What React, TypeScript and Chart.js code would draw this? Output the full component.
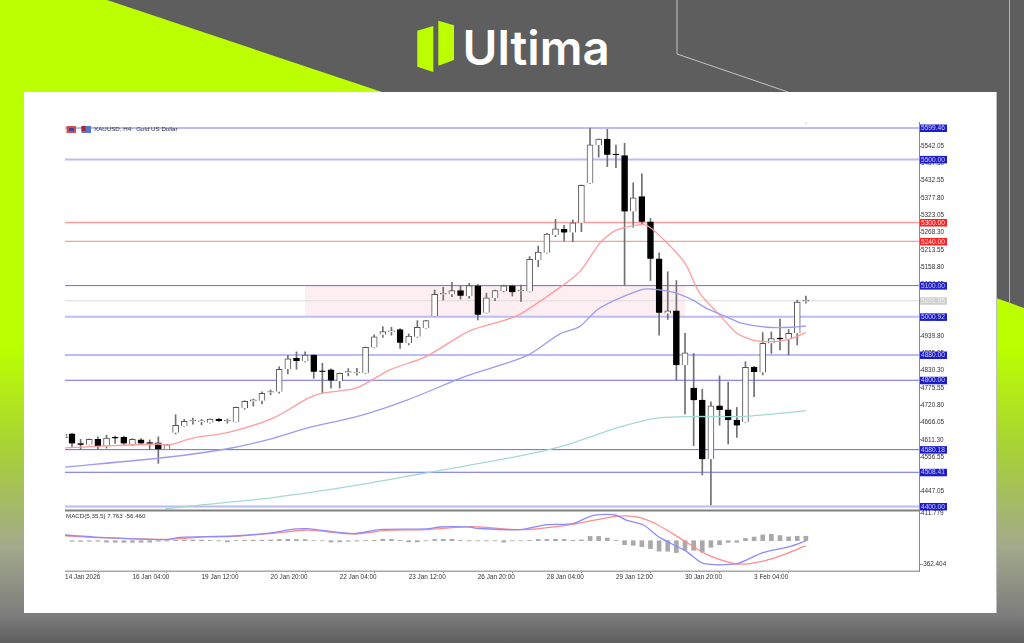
import React, { useEffect, useRef } from 'react';
import { Chart, registerables } from 'chart.js';

Chart.register(...registerables);

// H4 bars
const opens = [4630,4598,4596,4613,4590,4617,4619,4598,4611,4601,4602,4581,4634,4655,4670,4668,4665,4677,4670,4668,4711,4733,4735,4761,4764,4835,4870,4860,4880,4829,4833,4797,4824,4823,4822,4904,4944,4953,4961,4917,4938,4965,5004,5072,5073,5084,5067,5099,5014,5060,5083,5099,5082,5081,5181,5204,5260,5278,5268,5299,5424,5546,5564,5516,5512,5335,5382,5302,5185,5012,5020,4848,4775,4737,4550,4719,4706,4674,4668,4842,4825,4917,4934,4930,4949,5050];
const highs = [4632,4613,4614,4621,4626,4623,4623,4615,4615,4611,4621,4597,4691,4676,4680,4676,4678,4679,4677,4715,4735,4740,4763,4769,4843,4879,4890,4890,4881,4854,4836,4823,4837,4838,4905,4944,4970,4968,4964,4947,4989,4990,5086,5095,5110,5099,5107,5104,5076,5086,5102,5102,5102,5192,5225,5266,5310,5291,5308,5419,5599,5565,5595,5545,5551,5426,5454,5313,5204,5144,5116,4949,4885,4772,4732,4814,4794,4714,4859,4844,4951,4953,4994,4961,5054,5067];
const lows = [4589,4581,4595,4581,4585,4600,4596,4592,4596,4581,4537,4580,4630,4654,4661,4659,4664,4669,4664,4667,4708,4718,4725,4754,4759,4820,4835,4858,4806,4759,4775,4775,4814,4816,4821,4903,4936,4943,4901,4912,4936,4964,5003,5054,5065,5057,5060,4991,5013,5052,5080,5067,5050,5080,5160,5203,5255,5242,5239,5271,5423,5507,5477,5474,5102,5285,5295,5116,4943,4993,4801,4693,4593,4500,4405,4658,4598,4619,4667,4748,4817,4885,4896,4880,4912,5044];
const closes = [4600,4596,4613,4590,4617,4616,4600,4613,4600,4599,4581,4596,4657,4670,4671,4669,4677,4671,4671,4714,4733,4738,4759,4762,4835,4868,4861,4880,4827,4827,4799,4822,4825,4824,4904,4938,4954,4957,4919,4940,4968,4989,5072,5074,5084,5068,5100,5008,5061,5084,5099,5079,5084,5183,5206,5263,5280,5268,5299,5418,5546,5564,5515,5514,5335,5378,5302,5185,5014,5020,4848,4887,4737,4550,4719,4706,4674,4657,4841,4826,4917,4932,4930,4949,5048,5052];

const redBars = [-0.8,4,10,11.2,14,18,23.3,27.2,29,33,36.8,41,46,51.5,56.9,59,61.1,62.9,65.4,66.7,68.9,71,72.7,75,77,79.3,82,83.5,85];
const redMa = [4586,4592,4598,4595,4617,4634,4680,4741,4759,4776,4833,4875,4956,5004,5102,5150,5234,5274,5292,5289,5236,5171,5076,5007,4949,4925,4924,4934,4951];
const blueBars = [-0.8,11,18,23.3,27.2,33.4,38.8,44.5,46.4,52.7,56.5,58.8,60.8,62.9,65.8,67.1,69.6,71.9,73.5,75.8,77.4,80.5,83.5,85];
const blueMa = [4525,4556,4583,4616,4648,4688,4737,4801,4820,4878,4947,4970,5023,5054,5086,5089,5079,5054,5028,5001,4982,4968,4968,4972];
const tealBars = [10.8,14,23.3,33.4,40.3,50.7,56.5,63.5,67.7,71.6,77.4,81.2,85];
const tealMa = [4392,4402,4428,4469,4503,4554,4589,4652,4680,4685,4685,4693,4704];

const macdBars = [-0.9,3.2,11,12.5,18.7,23.3,25.2,27.2,32.6,35.6,41,42.6,43.8,46.1,46.8,51.9,55,58,60,61.1,62.9,64.2,66.2,68.1,71.2,73.1,77,80,83.1,85];
const macdLine = [87,51,16,51,71,122,168,183,107,168,178,208,213,208,188,168,243,259,370,395,390,314,238,46,-166,-344,-349,-182,-90,-4];
const signalBars = [-0.9,3.2,11,15.6,18.7,23.3,27.2,32.6,36.4,41,46.1,52.3,58,63,65.4,67.7,71.2,73.5,76.6,78.5,81.2,85];
const signalLine = [76,46,21,61,66,112,162,102,157,168,213,168,249,370,360,249,-25,-207,-344,-349,-268,-80];
const histogram = [-8,-10,-8,-8,-22,-24,-24,-24,-24,-22,-8,-5,6,10,12,10,4,-3,-18,3,6,8,8,10,18,22,18,16,2,-2,-20,-18,-8,-6,4,6,22,22,4,-18,-18,-3,18,20,20,4,-3,-3,-4,-2,-22,-2,-2,4,18,18,22,18,5,12,65,65,40,4,-60,-70,-90,-120,-160,-160,-180,-145,-145,-175,-100,-60,-25,-25,35,55,88,98,78,58,68,68];

const blueLevels = [5599.46,5500,5100,5000.92,4880,4800,4580.18,4508.41,4400];
const softLevels = [5599.46,5500,5000.92,4880,4400];
const redLevels = [5300,5240];
const currentPrice = 5051.95;
const zoneBars = [27,71];
const zonePrices = [5000.92,5100];

const priceTicks = [5542.05,5487.30,5432.55,5377.80,5323.05,5268.30,5213.55,5158.80,5104.05,5049.30,4994.55,4939.80,4885.05,4830.30,4775.55,4720.80,4666.05,4611.30,4556.55,4501.80,4447.05];
const macdTicks = [411.779,-362.404];
const dateBars = [-0.8,7,15,23,31,39,47,55,63,71,79];
const dateLabels = ['14 Jan 2026','16 Jan 04:00','19 Jan 12:00','20 Jan 20:00','22 Jan 04:00','23 Jan 12:00','26 Jan 20:00','28 Jan 04:00','29 Jan 12:00','30 Jan 20:00','3 Feb 04:00'];

const X_MIN = -0.81;
const X_MAX = 98.1;
const font = 'Liberation Sans';
const toPts = (xs: number[], ys: number[]) => xs.map((x, i) => ({ x, y: ys[i] }));
const levelLine = (v: number, color: string, width: number) => ({
  type: 'line', data: [{ x: X_MIN, y: v }, { x: X_MAX, y: v }], yAxisID: 'y',
  borderColor: color, borderWidth: width, pointRadius: 0, order: 10,
});
const maLine = (xs: number[], ys: number[], color: string, axis = 'y') => ({
  type: 'line', data: toPts(xs, ys), yAxisID: axis,
  borderColor: color, borderWidth: 1.3, pointRadius: 0, tension: 0.25, order: 1,
});

// zone behind the candles
const zonePlugin = {
  id: 'zone',
  beforeDatasetsDraw(chart: any) {
    const { ctx, scales } = chart;
    const x0 = scales.x.getPixelForValue(zoneBars[0]);
    const x1 = scales.x.getPixelForValue(zoneBars[1]);
    const y0 = scales.y.getPixelForValue(zonePrices[1]);
    const y1 = scales.y.getPixelForValue(zonePrices[0]);
    ctx.save();
    ctx.fillStyle = '#fdeef2';
    ctx.fillRect(x0, y0, x1 - x0, y1 - y0);
    ctx.restore();
  },
};

// price tags, pane titles
const labelsPlugin = {
  id: 'labels',
  afterDraw(chart: any) {
    const { ctx, scales, chartArea } = chart;
    const tag = (v: number, text: string, bg: string, fg: string) => {
      const y = scales.y.getPixelForValue(v);
      ctx.fillStyle = bg;
      ctx.fillRect(chartArea.right + 1, y - 3.5, 27, 7.5);
      ctx.fillStyle = fg;
      ctx.textAlign = 'left';
      ctx.textBaseline = 'middle';
      ctx.font = `6.6px "${font}"`;
      ctx.fillText(text, chartArea.right + 2, y + 0.3);
    };
    ctx.save();
    blueLevels.forEach((v) => tag(v, v.toFixed(2), '#1c1cc8', '#d0d0ff'));
    redLevels.forEach((v) => tag(v, v.toFixed(2), '#ff2020', '#ffe0e0'));
    tag(currentPrice, currentPrice.toFixed(2), '#cfcfcf', '#eeeeee');

    // separator between the panes and the axis line
    ctx.fillStyle = '#808080';
    ctx.fillRect(chartArea.left, 509.5, chartArea.right - chartArea.left, 2);
    ctx.fillStyle = '#a8a8a8';
    ctx.fillRect(chartArea.left, 570.5, chartArea.right - chartArea.left, 1.5);

    ctx.fillStyle = '#333';
    ctx.textBaseline = 'middle';
    ctx.font = `6.2px "${font}"`;
    ctx.fillText('XAUUSD, H4:  Gold US Dollar', 94, 129.5);
    ctx.fillText('MACD(5,35,5) 7.763 -56.460', 66, 516);
    ctx.fillText('1', 65, 436);
    ctx.fillStyle = '#c9c9c9';
    ctx.fillRect(805.5, 122.5, 1.5, 1.5);

    ctx.fillStyle = '#d05050';
    ctx.fillRect(66.5, 126, 9.5, 7);
    ctx.fillStyle = '#3344aa';
    ctx.fillRect(69, 128, 5, 3);
    ctx.fillStyle = '#5577cc';
    ctx.fillRect(81.5, 126, 9.5, 7);
    ctx.fillStyle = '#aa2233';
    ctx.fillRect(81.5, 126, 4, 5);
    ctx.restore();
  },
};

const App: React.FC = () => {
  const canvasRef = useRef<HTMLCanvasElement>(null);

  useEffect(() => {
    if (!canvasRef.current) return;
    const bars = opens.map((_, i) => i);
    const chart = new Chart(canvasRef.current, {
      type: 'bar',
      data: {
        datasets: [
          ...blueLevels.map((v) =>
            softLevels.includes(v) ? levelLine(v, '#bcbcf4', 2) : levelLine(v, '#6a6ae6', 1)),
          ...redLevels.map((v) => levelLine(v, '#ff9c9c', 1.3)),
          levelLine(currentPrice, '#dcdcdc', 1),
          {
            data: bars.map((i) => ({ x: i, y: [lows[i], highs[i]] })), yAxisID: 'y',
            barThickness: 1, grouped: false, backgroundColor: '#707070', order: 5,
          },
          {
            data: bars.map((i) => ({ x: i, y: [opens[i], closes[i]] })), yAxisID: 'y',
            barThickness: 6, grouped: false, minBarLength: 1, order: 4,
            backgroundColor: bars.map((i) => (closes[i] > opens[i] ? '#ffffff' : '#000000')),
            borderColor: bars.map((i) => (closes[i] > opens[i] ? '#555555' : '#000000')),
            borderWidth: 1,
          },
          maLine(tealBars, tealMa, '#a4dad2'),
          maLine(blueBars, blueMa, '#9c9cf0'),
          maLine(redBars, redMa, '#ff9c9c'),
          {
            data: bars.map((i) => ({ x: i, y: histogram[i] })), yAxisID: 'macd',
            barThickness: 4, grouped: false, backgroundColor: '#a9a9a9', order: 3,
          },
          maLine(macdBars, macdLine, '#8c8cff', 'macd'),
          maLine(signalBars, signalLine, '#ff8c8c', 'macd'),
        ] as any,
      },
      options: {
        responsive: false,
        animation: false,
        events: [],
        layout: { padding: { left: 65, top: 122, right: 45, bottom: 52 } },
        plugins: { legend: { display: false }, tooltip: { enabled: false } },
        scales: {
          x: {
            type: 'linear', min: X_MIN, max: X_MAX, offset: false,
            afterBuildTicks: (s: any) => { s.ticks = dateBars.map((value) => ({ value })); },
            afterFit: (s: any) => { s.height = 20; },
            grid: { drawOnChartArea: false, tickLength: 2, color: '#888' },
            border: { display: false },
            ticks: {
              autoSkip: false, maxRotation: 0, align: 'start', padding: 0, color: '#333',
              font: { family: font, size: 6.4 },
              callback: (_v: any, i: number) => dateLabels[i],
            },
          },
          y: {
            type: 'linear', position: 'right', stack: 'panes', stackWeight: 389, weight: 1,
            min: 4385.7, max: 5618.5,
            afterBuildTicks: (s: any) => { s.ticks = priceTicks.map((value) => ({ value })); },
            afterFit: (s: any) => { s.width = 60; },
            grid: { drawOnChartArea: false, tickLength: 2, color: '#888' },
            border: { color: '#888' },
            ticks: {
              autoSkip: false, padding: 0, color: '#333', font: { family: font, size: 6.4 },
              callback: (v: any) => Number(v).toFixed(2),
            },
          },
          macd: {
            type: 'linear', position: 'right', stack: 'panes', stackWeight: 60, weight: 2,
            min: -460, max: 450.8,
            afterBuildTicks: (s: any) => { s.ticks = macdTicks.map((value) => ({ value })); },
            afterFit: (s: any) => { s.width = 60; },
            grid: { drawOnChartArea: false, tickLength: 2, color: '#888' },
            border: { color: '#888' },
            ticks: {
              autoSkip: false, padding: 0, color: '#333', font: { family: font, size: 6.4 },
              callback: (v: any) => Number(v).toFixed(3),
            },
          },
        },
      } as any,
      plugins: [zonePlugin, labelsPlugin],
    });
    return () => chart.destroy();
  }, []);

  return (
    <div style={{ position: 'absolute', left: 0, top: 0, width: 1024, height: 643, overflow: 'hidden', background: '#5e5e5e' }}>
      <svg width={1024} height={643} style={{ position: 'absolute', left: 0, top: 0 }}>
        <defs>
          <linearGradient id="fade" x1="0" y1="300" x2="0" y2="643" gradientUnits="userSpaceOnUse">
            <stop offset="0" stopColor="#bbff00" />
            <stop offset="0.14" stopColor="#bbff00" />
            <stop offset="0.45" stopColor="#a6cf3a" />
            <stop offset="0.72" stopColor="#a3a98c" />
            <stop offset="0.92" stopColor="#7d7d7d" />
            <stop offset="1" stopColor="#5e5e5e" />
          </linearGradient>
        </defs>
        <polygon points="0,0 107,0 382,92 0,92" fill="#bbff00" />
        <polygon points="0,92 24,92 24,300 996,298 1024,308 1024,643 0,643 0,300" fill="url(#fade)" />
        <rect x={0} y={92} width={24} height={210} fill="#bbff00" />
        <polyline points="677,0 677,54 788,92" fill="none" stroke="#c4c4c4" strokeWidth={1} />
        <line x1={1009.5} y1={0} x2={1009.5} y2={303} stroke="#b4b4b4" strokeWidth={1} />
        <polygon points="417.3,30.7 433.3,26 433.3,72 417.3,66.7" fill="#bbff00" />
        <polygon points="438.3,20.7 454,25.3 454,60 438.3,65.7" fill="#bbff00" />
        <text x={462.5} y={65} fill="#ffffff" fontFamily="Inter" fontWeight={600} fontSize={47.5}>Ultima</text>
        <rect x={24} y={92} width={972} height={521} fill="#ffffff" />
        <line x1={996.5} y1={92} x2={996.5} y2={613} stroke="#bdbdbd" strokeWidth={1} />
      </svg>
      <canvas ref={canvasRef} width={1024} height={643}
        style={{ position: 'absolute', left: 0, top: 0, width: 1024, height: 643, filter: 'blur(0.45px)' }} />
    </div>
  );
};

export default App;
